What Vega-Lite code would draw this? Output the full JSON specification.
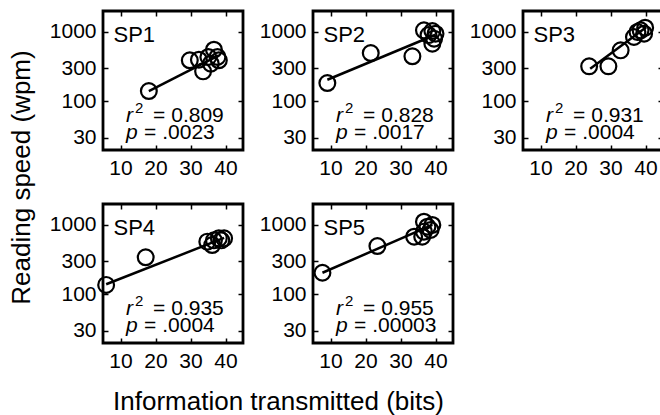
{
  "$schema": "https://vega.github.io/schema/vega-lite/v6.json",
  "padding": {"left": 6, "top": 8, "right": 0, "bottom": 0},
  "background": "white",
  "config": {
    "font": "Liberation Sans",
    "view": {"stroke": "black", "strokeWidth": 2.8},
    "axis": {
      "grid": false, "domain": false, "ticks": true,
      "tickColor": "black", "tickSize": -5, "tickWidth": 1.5,
      "labelFontSize": 21, "labelColor": "black", "labelFont": "Liberation Sans",
      "titleFontSize": 26, "titleFontWeight": "normal", "titleColor": "black", "titleFont": "Liberation Sans"
    },
    "axisX": {"labelPadding": 12, "labelAngle": 0},
    "axisY": {"labelPadding": 12},
    "text": {"font": "Liberation Sans", "fontSize": 21, "color": "black"}
  },
  "datasets": {
    "pts": [
      {"sp": "SP1", "bits": 18.1, "wpm": 141}, {"sp": "SP1", "bits": 29.8, "wpm": 391}, {"sp": "SP1", "bits": 32.4, "wpm": 398},
      {"sp": "SP1", "bits": 33.6, "wpm": 271}, {"sp": "SP1", "bits": 35.1, "wpm": 436}, {"sp": "SP1", "bits": 36.7, "wpm": 555},
      {"sp": "SP1", "bits": 37.7, "wpm": 436}, {"sp": "SP1", "bits": 38.1, "wpm": 391}, {"sp": "SP1", "bits": 35.8, "wpm": 349},
      {"sp": "SP2", "bits": 9.1, "wpm": 184}, {"sp": "SP2", "bits": 21.5, "wpm": 497}, {"sp": "SP2", "bits": 33.4, "wpm": 446},
      {"sp": "SP2", "bits": 36.7, "wpm": 1054}, {"sp": "SP2", "bits": 39.1, "wpm": 1031}, {"sp": "SP2", "bits": 39.6, "wpm": 800},
      {"sp": "SP2", "bits": 39.1, "wpm": 677}, {"sp": "SP2", "bits": 40.0, "wpm": 942}, {"sp": "SP2", "bits": 38.0, "wpm": 900},
      {"sp": "SP3", "bits": 23.9, "wpm": 320}, {"sp": "SP3", "bits": 29.4, "wpm": 320}, {"sp": "SP3", "bits": 32.9, "wpm": 543},
      {"sp": "SP3", "bits": 36.7, "wpm": 845}, {"sp": "SP3", "bits": 38.6, "wpm": 1054}, {"sp": "SP3", "bits": 39.9, "wpm": 1150},
      {"sp": "SP3", "bits": 39.6, "wpm": 942}, {"sp": "SP3", "bits": 37.7, "wpm": 998},
      {"sp": "SP4", "bits": 5.9, "wpm": 137}, {"sp": "SP4", "bits": 17.2, "wpm": 342}, {"sp": "SP4", "bits": 34.8, "wpm": 574},
      {"sp": "SP4", "bits": 36.2, "wpm": 514}, {"sp": "SP4", "bits": 38.1, "wpm": 641}, {"sp": "SP4", "bits": 39.6, "wpm": 641},
      {"sp": "SP4", "bits": 36.7, "wpm": 600}, {"sp": "SP4", "bits": 38.8, "wpm": 600},
      {"sp": "SP5", "bits": 7.7, "wpm": 205}, {"sp": "SP5", "bits": 23.4, "wpm": 497}, {"sp": "SP5", "bits": 33.9, "wpm": 677},
      {"sp": "SP5", "bits": 36.7, "wpm": 1113}, {"sp": "SP5", "bits": 37.7, "wpm": 942}, {"sp": "SP5", "bits": 38.6, "wpm": 845},
      {"sp": "SP5", "bits": 36.7, "wpm": 800}, {"sp": "SP5", "bits": 39.1, "wpm": 998}, {"sp": "SP5", "bits": 36.2, "wpm": 677}
    ],
    "fits": [
      {"sp": "SP1", "bits": 18.1, "wpm": 141}, {"sp": "SP1", "bits": 38.1, "wpm": 460},
      {"sp": "SP2", "bits": 9.1, "wpm": 205}, {"sp": "SP2", "bits": 40.0, "wpm": 910},
      {"sp": "SP3", "bits": 24.2, "wpm": 295}, {"sp": "SP3", "bits": 40.2, "wpm": 1170},
      {"sp": "SP4", "bits": 5.9, "wpm": 140}, {"sp": "SP4", "bits": 39.6, "wpm": 650},
      {"sp": "SP5", "bits": 7.7, "wpm": 205}, {"sp": "SP5", "bits": 39.1, "wpm": 1000}
    ],
    "stats": [
      {"sp": "SP1", "r2": "= 0.809", "p": "= .0023"},
      {"sp": "SP2", "r2": "= 0.828", "p": "= .0017"},
      {"sp": "SP3", "r2": "= 0.931", "p": "= .0004"},
      {"sp": "SP4", "r2": "= 0.935", "p": "= .0004"},
      {"sp": "SP5", "r2": "= 0.955", "p": "= .00003"}
    ]
  },
  "columns": 3,
  "bounds": "flush",
  "spacing": {"row": 54, "column": 70},
  "concat": [
    {
      "width": 140, "height": 139,
      "resolve": {"axis": {"x": "independent", "y": "independent"}},
      "layer": [
        {"data": {"name": "fits"}, "transform": [{"filter": "datum.sp == 'SP1'"}],
         "mark": {"type": "line", "color": "black", "strokeWidth": 2.5},
         "encoding": {
           "x": {"field": "bits", "type": "quantitative", "scale": {"domain": [5, 45], "nice": false, "zero": false}, "axis": {"orient": "top", "values": [10, 20, 30, 40], "labels": false, "title": null}},
           "y": {"field": "wpm", "type": "quantitative", "scale": {"type": "log", "domain": [20, 2000], "nice": false}, "axis": {"orient": "right", "values": [30, 100, 300, 1000], "labels": false, "title": null}}}},
        {"data": {"name": "pts"}, "transform": [{"filter": "datum.sp == 'SP1'"}],
         "mark": {"type": "point", "shape": "circle", "filled": false, "color": "black", "strokeWidth": 2.2, "size": 250, "opacity": 1},
         "encoding": {
           "x": {"field": "bits", "type": "quantitative", "axis": {"orient": "bottom", "values": [10, 20, 30, 40], "format": "d", "title": null}},
           "y": {"field": "wpm", "type": "quantitative", "axis": {"orient": "left", "values": [30, 100, 300, 1000], "format": "d", "title": "Reading speed (wpm)", "titleX": -74, "titleY": 166, "titleAlign": "center", "titleAngle": 270, "titleBaseline": "alphabetic"}}}},
        {"data": {"name": "stats"}, "transform": [{"filter": "datum.sp == 'SP1'"}],
         "layer": [
           {"mark": {"type": "text", "align": "left", "baseline": "alphabetic", "fontSize": 22},
            "encoding": {"x": {"datum": 8.0, "type": "quantitative", "axis": null}, "y": {"datum": 716, "type": "quantitative", "axis": null}, "text": {"field": "sp"}}},
           {"mark": {"type": "text", "align": "left", "baseline": "alphabetic", "fontStyle": "italic", "text": "r"},
            "encoding": {"x": {"datum": 11.6, "type": "quantitative", "axis": null}, "y": {"datum": 50, "type": "quantitative", "axis": null}}},
           {"mark": {"type": "text", "align": "left", "baseline": "alphabetic", "fontSize": 15, "dx": 9, "dy": -9, "text": "2"},
            "encoding": {"x": {"datum": 11.6, "type": "quantitative", "axis": null}, "y": {"datum": 50, "type": "quantitative", "axis": null}}},
           {"mark": {"type": "text", "align": "left", "baseline": "alphabetic", "dx": 27},
            "encoding": {"x": {"datum": 11.6, "type": "quantitative", "axis": null}, "y": {"datum": 50, "type": "quantitative", "axis": null}, "text": {"field": "r2"}}},
           {"mark": {"type": "text", "align": "left", "baseline": "alphabetic", "fontStyle": "italic", "text": "p"},
            "encoding": {"x": {"datum": 11.6, "type": "quantitative", "axis": null}, "y": {"datum": 29, "type": "quantitative", "axis": null}}},
           {"mark": {"type": "text", "align": "left", "baseline": "alphabetic", "dx": 18},
            "encoding": {"x": {"datum": 11.6, "type": "quantitative", "axis": null}, "y": {"datum": 29, "type": "quantitative", "axis": null}, "text": {"field": "p"}}}
         ]}
      ]
    },
    {
      "width": 140, "height": 139,
      "resolve": {"axis": {"x": "independent", "y": "independent"}},
      "layer": [
        {"data": {"name": "fits"}, "transform": [{"filter": "datum.sp == 'SP2'"}],
         "mark": {"type": "line", "color": "black", "strokeWidth": 2.5},
         "encoding": {
           "x": {"field": "bits", "type": "quantitative", "scale": {"domain": [5, 45], "nice": false, "zero": false}, "axis": {"orient": "top", "values": [10, 20, 30, 40], "labels": false, "title": null}},
           "y": {"field": "wpm", "type": "quantitative", "scale": {"type": "log", "domain": [20, 2000], "nice": false}, "axis": {"orient": "right", "values": [30, 100, 300, 1000], "labels": false, "title": null}}}},
        {"data": {"name": "pts"}, "transform": [{"filter": "datum.sp == 'SP2'"}],
         "mark": {"type": "point", "shape": "circle", "filled": false, "color": "black", "strokeWidth": 2.2, "size": 250, "opacity": 1},
         "encoding": {
           "x": {"field": "bits", "type": "quantitative", "axis": {"orient": "bottom", "values": [10, 20, 30, 40], "format": "d", "title": null}},
           "y": {"field": "wpm", "type": "quantitative", "axis": {"orient": "left", "values": [30, 100, 300, 1000], "format": "d", "title": null}}}},
        {"data": {"name": "stats"}, "transform": [{"filter": "datum.sp == 'SP2'"}],
         "layer": [
           {"mark": {"type": "text", "align": "left", "baseline": "alphabetic", "fontSize": 22},
            "encoding": {"x": {"datum": 8.0, "type": "quantitative", "axis": null}, "y": {"datum": 716, "type": "quantitative", "axis": null}, "text": {"field": "sp"}}},
           {"mark": {"type": "text", "align": "left", "baseline": "alphabetic", "fontStyle": "italic", "text": "r"},
            "encoding": {"x": {"datum": 11.6, "type": "quantitative", "axis": null}, "y": {"datum": 50, "type": "quantitative", "axis": null}}},
           {"mark": {"type": "text", "align": "left", "baseline": "alphabetic", "fontSize": 15, "dx": 9, "dy": -9, "text": "2"},
            "encoding": {"x": {"datum": 11.6, "type": "quantitative", "axis": null}, "y": {"datum": 50, "type": "quantitative", "axis": null}}},
           {"mark": {"type": "text", "align": "left", "baseline": "alphabetic", "dx": 27},
            "encoding": {"x": {"datum": 11.6, "type": "quantitative", "axis": null}, "y": {"datum": 50, "type": "quantitative", "axis": null}, "text": {"field": "r2"}}},
           {"mark": {"type": "text", "align": "left", "baseline": "alphabetic", "fontStyle": "italic", "text": "p"},
            "encoding": {"x": {"datum": 11.6, "type": "quantitative", "axis": null}, "y": {"datum": 29, "type": "quantitative", "axis": null}}},
           {"mark": {"type": "text", "align": "left", "baseline": "alphabetic", "dx": 18},
            "encoding": {"x": {"datum": 11.6, "type": "quantitative", "axis": null}, "y": {"datum": 29, "type": "quantitative", "axis": null}, "text": {"field": "p"}}}
         ]}
      ]
    },
    {
      "width": 140, "height": 139,
      "resolve": {"axis": {"x": "independent", "y": "independent"}},
      "layer": [
        {"data": {"name": "fits"}, "transform": [{"filter": "datum.sp == 'SP3'"}],
         "mark": {"type": "line", "color": "black", "strokeWidth": 2.5},
         "encoding": {
           "x": {"field": "bits", "type": "quantitative", "scale": {"domain": [5, 45], "nice": false, "zero": false}, "axis": {"orient": "top", "values": [10, 20, 30, 40], "labels": false, "title": null}},
           "y": {"field": "wpm", "type": "quantitative", "scale": {"type": "log", "domain": [20, 2000], "nice": false}, "axis": {"orient": "right", "values": [30, 100, 300, 1000], "labels": false, "title": null}}}},
        {"data": {"name": "pts"}, "transform": [{"filter": "datum.sp == 'SP3'"}],
         "mark": {"type": "point", "shape": "circle", "filled": false, "color": "black", "strokeWidth": 2.2, "size": 250, "opacity": 1},
         "encoding": {
           "x": {"field": "bits", "type": "quantitative", "axis": {"orient": "bottom", "values": [10, 20, 30, 40], "format": "d", "title": null}},
           "y": {"field": "wpm", "type": "quantitative", "axis": {"orient": "left", "values": [30, 100, 300, 1000], "format": "d", "title": null}}}},
        {"data": {"name": "stats"}, "transform": [{"filter": "datum.sp == 'SP3'"}],
         "layer": [
           {"mark": {"type": "text", "align": "left", "baseline": "alphabetic", "fontSize": 22},
            "encoding": {"x": {"datum": 8.0, "type": "quantitative", "axis": null}, "y": {"datum": 716, "type": "quantitative", "axis": null}, "text": {"field": "sp"}}},
           {"mark": {"type": "text", "align": "left", "baseline": "alphabetic", "fontStyle": "italic", "text": "r"},
            "encoding": {"x": {"datum": 11.6, "type": "quantitative", "axis": null}, "y": {"datum": 50, "type": "quantitative", "axis": null}}},
           {"mark": {"type": "text", "align": "left", "baseline": "alphabetic", "fontSize": 15, "dx": 9, "dy": -9, "text": "2"},
            "encoding": {"x": {"datum": 11.6, "type": "quantitative", "axis": null}, "y": {"datum": 50, "type": "quantitative", "axis": null}}},
           {"mark": {"type": "text", "align": "left", "baseline": "alphabetic", "dx": 27},
            "encoding": {"x": {"datum": 11.6, "type": "quantitative", "axis": null}, "y": {"datum": 50, "type": "quantitative", "axis": null}, "text": {"field": "r2"}}},
           {"mark": {"type": "text", "align": "left", "baseline": "alphabetic", "fontStyle": "italic", "text": "p"},
            "encoding": {"x": {"datum": 11.6, "type": "quantitative", "axis": null}, "y": {"datum": 29, "type": "quantitative", "axis": null}}},
           {"mark": {"type": "text", "align": "left", "baseline": "alphabetic", "dx": 18},
            "encoding": {"x": {"datum": 11.6, "type": "quantitative", "axis": null}, "y": {"datum": 29, "type": "quantitative", "axis": null}, "text": {"field": "p"}}}
         ]}
      ]
    },
    {
      "width": 140, "height": 139,
      "resolve": {"axis": {"x": "independent", "y": "independent"}},
      "layer": [
        {"data": {"name": "fits"}, "transform": [{"filter": "datum.sp == 'SP4'"}],
         "mark": {"type": "line", "color": "black", "strokeWidth": 2.5},
         "encoding": {
           "x": {"field": "bits", "type": "quantitative", "scale": {"domain": [5, 45], "nice": false, "zero": false}, "axis": {"orient": "top", "values": [10, 20, 30, 40], "labels": false, "title": null}},
           "y": {"field": "wpm", "type": "quantitative", "scale": {"type": "log", "domain": [20, 2000], "nice": false}, "axis": {"orient": "right", "values": [30, 100, 300, 1000], "labels": false, "title": null}}}},
        {"data": {"name": "pts"}, "transform": [{"filter": "datum.sp == 'SP4'"}],
         "mark": {"type": "point", "shape": "circle", "filled": false, "color": "black", "strokeWidth": 2.2, "size": 250, "opacity": 1},
         "encoding": {
           "x": {"field": "bits", "type": "quantitative", "axis": {"orient": "bottom", "values": [10, 20, 30, 40], "format": "d", "title": "Information transmitted (bits)", "titleX": 175, "titleY": 66, "titleAlign": "center", "titleBaseline": "alphabetic"}},
           "y": {"field": "wpm", "type": "quantitative", "axis": {"orient": "left", "values": [30, 100, 300, 1000], "format": "d", "title": null}}}},
        {"data": {"name": "stats"}, "transform": [{"filter": "datum.sp == 'SP4'"}],
         "layer": [
           {"mark": {"type": "text", "align": "left", "baseline": "alphabetic", "fontSize": 22},
            "encoding": {"x": {"datum": 8.0, "type": "quantitative", "axis": null}, "y": {"datum": 716, "type": "quantitative", "axis": null}, "text": {"field": "sp"}}},
           {"mark": {"type": "text", "align": "left", "baseline": "alphabetic", "fontStyle": "italic", "text": "r"},
            "encoding": {"x": {"datum": 11.6, "type": "quantitative", "axis": null}, "y": {"datum": 50, "type": "quantitative", "axis": null}}},
           {"mark": {"type": "text", "align": "left", "baseline": "alphabetic", "fontSize": 15, "dx": 9, "dy": -9, "text": "2"},
            "encoding": {"x": {"datum": 11.6, "type": "quantitative", "axis": null}, "y": {"datum": 50, "type": "quantitative", "axis": null}}},
           {"mark": {"type": "text", "align": "left", "baseline": "alphabetic", "dx": 27},
            "encoding": {"x": {"datum": 11.6, "type": "quantitative", "axis": null}, "y": {"datum": 50, "type": "quantitative", "axis": null}, "text": {"field": "r2"}}},
           {"mark": {"type": "text", "align": "left", "baseline": "alphabetic", "fontStyle": "italic", "text": "p"},
            "encoding": {"x": {"datum": 11.6, "type": "quantitative", "axis": null}, "y": {"datum": 29, "type": "quantitative", "axis": null}}},
           {"mark": {"type": "text", "align": "left", "baseline": "alphabetic", "dx": 18},
            "encoding": {"x": {"datum": 11.6, "type": "quantitative", "axis": null}, "y": {"datum": 29, "type": "quantitative", "axis": null}, "text": {"field": "p"}}}
         ]}
      ]
    },
    {
      "width": 140, "height": 139,
      "resolve": {"axis": {"x": "independent", "y": "independent"}},
      "layer": [
        {"data": {"name": "fits"}, "transform": [{"filter": "datum.sp == 'SP5'"}],
         "mark": {"type": "line", "color": "black", "strokeWidth": 2.5},
         "encoding": {
           "x": {"field": "bits", "type": "quantitative", "scale": {"domain": [5, 45], "nice": false, "zero": false}, "axis": {"orient": "top", "values": [10, 20, 30, 40], "labels": false, "title": null}},
           "y": {"field": "wpm", "type": "quantitative", "scale": {"type": "log", "domain": [20, 2000], "nice": false}, "axis": {"orient": "right", "values": [30, 100, 300, 1000], "labels": false, "title": null}}}},
        {"data": {"name": "pts"}, "transform": [{"filter": "datum.sp == 'SP5'"}],
         "mark": {"type": "point", "shape": "circle", "filled": false, "color": "black", "strokeWidth": 2.2, "size": 250, "opacity": 1},
         "encoding": {
           "x": {"field": "bits", "type": "quantitative", "axis": {"orient": "bottom", "values": [10, 20, 30, 40], "format": "d", "title": null}},
           "y": {"field": "wpm", "type": "quantitative", "axis": {"orient": "left", "values": [30, 100, 300, 1000], "format": "d", "title": null}}}},
        {"data": {"name": "stats"}, "transform": [{"filter": "datum.sp == 'SP5'"}],
         "layer": [
           {"mark": {"type": "text", "align": "left", "baseline": "alphabetic", "fontSize": 22},
            "encoding": {"x": {"datum": 8.0, "type": "quantitative", "axis": null}, "y": {"datum": 716, "type": "quantitative", "axis": null}, "text": {"field": "sp"}}},
           {"mark": {"type": "text", "align": "left", "baseline": "alphabetic", "fontStyle": "italic", "text": "r"},
            "encoding": {"x": {"datum": 11.6, "type": "quantitative", "axis": null}, "y": {"datum": 50, "type": "quantitative", "axis": null}}},
           {"mark": {"type": "text", "align": "left", "baseline": "alphabetic", "fontSize": 15, "dx": 9, "dy": -9, "text": "2"},
            "encoding": {"x": {"datum": 11.6, "type": "quantitative", "axis": null}, "y": {"datum": 50, "type": "quantitative", "axis": null}}},
           {"mark": {"type": "text", "align": "left", "baseline": "alphabetic", "dx": 27},
            "encoding": {"x": {"datum": 11.6, "type": "quantitative", "axis": null}, "y": {"datum": 50, "type": "quantitative", "axis": null}, "text": {"field": "r2"}}},
           {"mark": {"type": "text", "align": "left", "baseline": "alphabetic", "fontStyle": "italic", "text": "p"},
            "encoding": {"x": {"datum": 11.6, "type": "quantitative", "axis": null}, "y": {"datum": 29, "type": "quantitative", "axis": null}}},
           {"mark": {"type": "text", "align": "left", "baseline": "alphabetic", "dx": 18},
            "encoding": {"x": {"datum": 11.6, "type": "quantitative", "axis": null}, "y": {"datum": 29, "type": "quantitative", "axis": null}, "text": {"field": "p"}}}
         ]}
      ]
    }
  ]
}
